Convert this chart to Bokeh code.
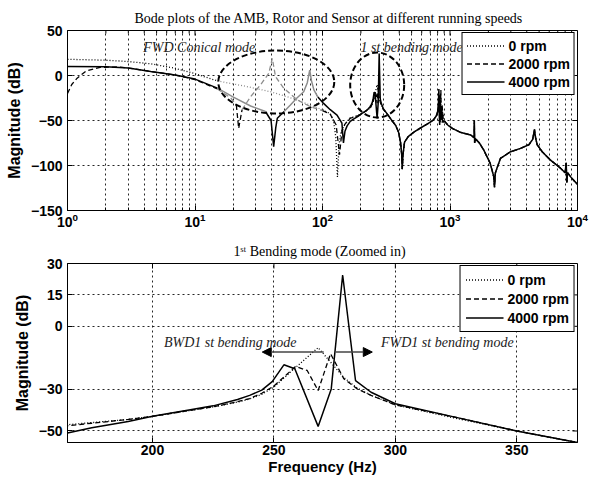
from bokeh.plotting import figure
from bokeh.layouts import column
from bokeh.models import (Range1d, FixedTicker, Label, Arrow, NormalHead, Legend, LegendItem, Title)
from bokeh.embed import file_html
from bokeh.resources import INLINE

# ---------------- data ----------------
# 0 rpm (dotted)
F_0RPM = [1, 2, 3, 4.5, 7, 10, 15, 25, 39, 60, 80, 100, 115, 122, 127, 131, 135, 140, 150,
          165, 175, 190, 200, 215, 225, 235, 240, 245, 250, 258.6, 268.2, 278.8, 284.3, 290, 300, 325, 350, 375]
DB_0RPM = [18, 17, 15.5, 13, 8, 2, -6, -12, -18, -26, -33, -38, -42.5, -50, -68, -113, -76, -62, -54,
           -47, -46, -44.5, -43, -40.3, -38.5, -36.2, -34.7, -32.5, -29, -20, -10.2, -24.5, -29.5, -33, -37.5, -44, -50, -55.5]
F_0RPM_CLUSTER = [810, 825, 835, 842, 850, 870, 900]
DB_0RPM_CLUSTER = [-38, -30, -50, -20, -52, -40, -50]

# 2000 rpm (dashed)
F_2000 = [1, 1.08, 1.19, 1.4, 1.8, 2.5, 3, 4.5, 7, 10, 15, 19.1, 21.1, 22, 23.4, 27.3, 32.6, 37.9, 40.4, 42.8,
          49.6, 63.2, 80.6, 100, 115, 128, 136, 142, 150, 165, 175, 190, 200, 215, 225, 235, 240, 245, 250, 258.9,
          263.7, 268.2, 273.3, 278.8, 284.3, 290, 300, 325, 350, 375]
DB_2000 = [-20, -10, -3, 5, 9, 9.5, 8.3, 4.5, 0.5, -4.5, -15, -25, -32.8, -58.7, -38, -23.5, -10.5, 2.4, 19, -1.3,
           -14, -27, -34.7, -39, -43, -55, -88, -62, -54, -47.5, -46.3, -44.5, -43, -40.2, -38.5, -36, -34.5, -32, -28.5, -19.2,
           -21.1, -30.7, -13.1, -25.1, -29.9, -33, -37.5, -43.5, -50, -55.5]
F_2000_CLUSTER = [805, 815, 828, 836, 848, 856, 866, 885, 910]
DB_2000_CLUSTER = [-40, -33, -22, -52, -16, -50, -32, -48, -51]

# 4000 rpm (solid)
F_4000 = [1, 2, 3, 4.5, 7, 10, 15, 20, 27.3, 35.7, 39.5, 41.4, 43, 44.2, 50, 56, 63, 71.2, 76, 79.4,
          82, 85.6, 92, 102, 115, 130, 142, 146, 150, 156, 165, 175, 190, 200, 215, 225, 235, 240, 245, 249.3,
          254.1, 258.6, 268.2, 273.6, 278.3, 283.6, 290, 300, 325, 350, 375]
DB_4000 = [10, 9.8, 8.3, 4.5, 0.5, -4, -14, -24, -33.9, -40, -50, -79, -58, -47.6, -40, -32.8, -25, -18, -8, 6,
           -6, -16, -24, -31, -38, -44, -53, -75, -62, -56, -51, -48.5, -45.5, -43, -40, -38, -35, -33, -30.5, -26.4,
           -18.4, -20.3, -47.8, -29.9, 24.5, -25.9, -31.5, -37, -43.5, -50, -55.5]
F_4000_CLUSTER = [800, 812, 818, 824, 830, 838, 846, 860, 875, 910]
DB_4000_CLUSTER = [-40, -30, -15, -45, -55, -28, -48, -36, -52, -51]

# shared high-frequency part (curves coincide)
F_TAIL_A = [395, 410, 418, 422, 428, 440, 470, 520, 600, 680, 740, 780]
DB_TAIL_A = [-63, -75, -88, -104, -88, -74, -68, -63, -57.5, -53, -49.5, -45]
F_TAIL_B = [960, 1050, 1200, 1449, 1545, 1552, 1560, 1575, 1700, 1842, 2068, 2200, 2234, 2270, 2489, 2985,
            3573, 4153, 4450, 4600, 4700, 4834, 5286, 6140, 7360, 8000, 8150, 8250, 8350, 9000, 10000]
DB_TAIL_B = [-55, -59, -63, -66, -69, -50, -75, -70, -75, -83, -97.6, -112, -124, -108, -92, -84.7,
             -81, -77, -71, -60, -70, -77, -84.7, -94, -103, -108, -97, -119, -108, -114, -121]

LABELS = ["0 rpm", "2000 rpm", "4000 rpm"]
TOP_XTICKS = [1, 10, 100, 1000, 10000]
TOP_YTICKS = [-150, -100, -50, 0, 50]
BOT_YTICKS = [-50, -30, 0, 15, 30]
BOT_XTICKS = [200, 250, 300, 350]

TITLE_TOP = "Bode plots of the AMB, Rotor and Sensor at different running speeds"
TITLE_BOT = "1\u02e2\u1d57 Bending mode (Zoomed in)"

series = [
    (F_0RPM + F_TAIL_A + F_0RPM_CLUSTER + F_TAIL_B, DB_0RPM + DB_TAIL_A + DB_0RPM_CLUSTER + DB_TAIL_B, "1 2", 1.3),
    (F_2000 + F_TAIL_A + F_2000_CLUSTER + F_TAIL_B, DB_2000 + DB_TAIL_A + DB_2000_CLUSTER + DB_TAIL_B, "5 3", 1.3),
    (F_4000 + F_TAIL_A + F_4000_CLUSTER + F_TAIL_B, DB_4000 + DB_TAIL_A + DB_4000_CLUSTER + DB_TAIL_B, "solid", 1.5),
]
for f, d, _, _ in series:
    assert len(f) == len(d)

SANS = "Liberation Sans"
SERIF = "Liberation Serif"
GRAY = "#8c8c8c"
FRAME_W = 510


def split_runs(f, d):
    """Split a curve into runs: gray inside the conical-mode region, black elsewhere."""
    runs = {True: ([], []), False: ([], [])}
    cur_flag, cx, cy = None, [], []
    for i in range(len(f) - 1):
        flag = (f[i] >= 15 and f[i + 1] <= 100 and min(d[i], d[i + 1]) > -45)
        if flag != cur_flag:
            if cx:
                runs[cur_flag][0].append(cx)
                runs[cur_flag][1].append(cy)
            cx, cy, cur_flag = [f[i]], [d[i]], flag
        cx.append(f[i + 1])
        cy.append(d[i + 1])
    if cx:
        runs[cur_flag][0].append(cx)
        runs[cur_flag][1].append(cy)
    return runs


def style_axis(ax, size="14px"):
    ax.axis_line_color = "black"
    ax.major_tick_in = 5
    ax.major_tick_out = 0
    ax.minor_tick_in = 3
    ax.minor_tick_out = 0
    ax.major_tick_line_color = "black"
    ax.minor_tick_line_color = "black"
    ax.major_label_text_font = SANS
    ax.major_label_text_font_style = "bold"
    ax.major_label_text_font_size = size
    ax.major_label_text_color = "black"
    ax.axis_label_text_font = SANS
    ax.axis_label_text_font_style = "bold"
    ax.axis_label_text_font_size = "15px"
    ax.axis_label_text_color = "black"


def style_grid(g):
    g.grid_line_color = "black"
    g.grid_line_dash = "2 3"
    g.grid_line_width = 1
    g.grid_line_alpha = 0.85


def make_legend(renderers, padding, spacing):
    leg = Legend(items=[LegendItem(label=l, renderers=[r]) for l, r in zip(LABELS, renderers)],
                 location="top_right")
    leg.margin = 2
    leg.padding = padding
    leg.spacing = spacing
    leg.glyph_width = 38
    leg.glyph_height = 17
    leg.label_height = 17
    leg.label_standoff = 4
    leg.label_text_font = SANS
    leg.label_text_font_style = "bold"
    leg.label_text_font_size = "14px"
    leg.label_text_color = "black"
    leg.border_line_color = "black"
    leg.border_line_width = 1
    leg.border_line_alpha = 1
    leg.background_fill_color = "white"
    leg.background_fill_alpha = 1
    return leg


def make_title(text, offset, standoff):
    t = Title(text=text, align="left", offset=offset, standoff=standoff)
    t.text_font = SERIF
    t.text_font_style = "normal"
    t.text_font_size = "14px"
    t.text_color = "black"
    return t


# ---------------- top plot ----------------
p1 = figure(width=589, height=232, x_axis_type="log",
            x_range=Range1d(1, 1e4), y_range=Range1d(-150, 50),
            output_backend="svg", toolbar_location=None, title=None,
            min_border_left=67, min_border_right=12, min_border_top=30, min_border_bottom=22)
p1.add_layout(make_title(TITLE_TOP, 67, 10), "above")
p1.outline_line_color = "black"
p1.outline_line_alpha = 1
p1.background_fill_color = "white"

minor = [m * 10 ** e for e in range(4) for m in range(2, 10)]
p1.xaxis.ticker = FixedTicker(ticks=TOP_XTICKS, minor_ticks=minor)
p1.yaxis.ticker = FixedTicker(ticks=TOP_YTICKS)
style_axis(p1.xaxis[0], "14px")
style_axis(p1.yaxis[0], "14px")
p1.xaxis.major_label_standoff = 2
p1.yaxis.major_label_standoff = 5
p1.yaxis.axis_label = "Magnitude (dB)"
p1.yaxis.axis_label_standoff = 5
p1.yaxis.axis_label_text_font_size = "16px"
style_grid(p1.xgrid[0])
style_grid(p1.ygrid[0])
p1.xgrid.minor_grid_line_color = "black"
p1.xgrid.minor_grid_line_dash = "2 3"
p1.xgrid.minor_grid_line_alpha = 0.85

# MATLAB-style inward ticks on the top and right edges (derived from the tick lists)
y_per_px = (50 - (-150)) / 180.0
x_fac = 10 ** (4.0 / FRAME_W)  # log-decades per pixel -> factor per pixel
p1.segment(x0=TOP_XTICKS, y0=[50] * 5, x1=TOP_XTICKS, y1=[50 - 5 * y_per_px] * 5, line_color="black")
p1.segment(x0=minor, y0=[50] * len(minor), x1=minor, y1=[50 - 3 * y_per_px] * len(minor), line_color="black")
p1.segment(x0=[1e4] * 5, y0=TOP_YTICKS, x1=[1e4 / x_fac ** 5] * 5, y1=TOP_YTICKS, line_color="black")

top_rends = []
for f, d, dash, lw in series:
    runs = split_runs(f, d)
    rb = p1.multi_line(runs[False][0], runs[False][1], line_color="black", line_dash=dash, line_width=lw)
    if runs[True][0]:
        p1.multi_line(runs[True][0], runs[True][1], line_color=GRAY, line_dash=dash, line_width=lw)
    top_rends.append(rb)

# dashed ellipses around the modes (screen-size ellipses on a log axis)
p1.ellipse(x=[43.4], y=[-7.2], width=116, height=63, width_units="screen", height_units="screen",
           fill_color=None, line_color="black", line_dash="6 3", line_width=2)
p1.ellipse(x=[268.5], y=[-10.6], width=54, height=65, width_units="screen", height_units="screen",
           fill_color=None, line_color="black", line_dash="6 3", line_width=2)

p1.add_layout(Label(x=3.93, y=31.5, text="FWD Conical mode", text_font=SERIF, text_font_style="italic",
                    text_font_size="14px", text_color="#222222", text_baseline="alphabetic"))
p1.add_layout(Label(x=198.7, y=31.5, text="1  st bending mode", text_font=SERIF, text_font_style="italic",
                    text_font_size="14px", text_color="#222222", text_baseline="alphabetic"))
p1.add_layout(make_legend(top_rends, 4, 1))

# ---------------- bottom plot ----------------
p2 = figure(width=589, height=245, x_range=Range1d(165, 375), y_range=Range1d(-55.5, 30),
            output_backend="svg", toolbar_location=None, title=None,
            min_border_left=67, min_border_right=12, min_border_top=31, min_border_bottom=35)
p2.add_layout(make_title(TITLE_BOT, 166, 10), "above")
p2.outline_line_color = "black"
p2.outline_line_alpha = 1
p2.xaxis.ticker = FixedTicker(ticks=BOT_XTICKS)
p2.yaxis.ticker = FixedTicker(ticks=BOT_YTICKS)
style_axis(p2.xaxis[0], "14px")
style_axis(p2.yaxis[0], "14px")
p2.xaxis.minor_tick_line_color = None
p2.yaxis.minor_tick_line_color = None
p2.xaxis.major_label_standoff = 2
p2.xaxis.axis_label = "Frequency (Hz)"
p2.xaxis.axis_label_standoff = 0
p2.yaxis.major_label_standoff = 5
p2.yaxis.axis_label = "Magnitude (dB)"
p2.yaxis.axis_label_standoff = 5
p2.yaxis.axis_label_text_font_size = "16px"
style_grid(p2.xgrid[0])
style_grid(p2.ygrid[0])

# inward ticks on top and right edges
by_per_px = (30 - (-55.5)) / 178.0
bx_per_px = (375 - 165) / float(FRAME_W)
p2.segment(x0=BOT_XTICKS, y0=[30] * 4, x1=BOT_XTICKS, y1=[30 - 5 * by_per_px] * 4, line_color="black")
p2.segment(x0=[375] * 5, y0=BOT_YTICKS, x1=[375 - 5 * bx_per_px] * 5, y1=BOT_YTICKS, line_color="black")

bot_rends = []
for f, d, dash, lw in series:
    bot_rends.append(p2.line(f, d, line_color="black", line_dash=dash, line_width=lw))

head = dict(size=9, fill_color="black", line_color="black")
p2.add_layout(Arrow(x_start=270.5, y_start=-12.3, x_end=245.2, y_end=-12.3,
                    end=NormalHead(**head), line_color="#444444", line_width=1.5))
p2.add_layout(Arrow(x_start=275.4, y_start=-12.3, x_end=290.5, y_end=-12.3,
                    end=NormalHead(**head), line_color="#444444", line_width=1.5))
p2.add_layout(Label(x=204.7, y=-7.5, text="BWD1  st bending mode", text_font=SERIF, text_font_style="italic",
                    text_font_size="14px", text_color="#222222", text_baseline="alphabetic"))
p2.add_layout(Label(x=294.1, y=-7.5, text="FWD1  st bending mode", text_font=SERIF, text_font_style="italic",
                    text_font_size="14px", text_color="#222222", text_baseline="alphabetic"))
p2.add_layout(make_legend(bot_rends, 5, 2))

layout = column(p1, p2, spacing=0)
open("out.html", "w").write(file_html(layout, INLINE))
